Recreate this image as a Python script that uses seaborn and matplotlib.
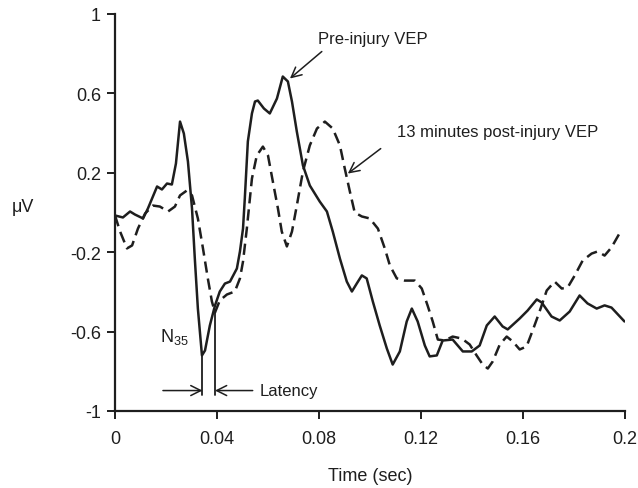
import matplotlib
matplotlib.use("Agg")
import matplotlib.pyplot as plt
import seaborn as sns
import pandas as pd

# ---- data (time in sec, amplitude in microvolts) ----
time_pre = [0.0, 0.0031, 0.0059, 0.0078, 0.011, 0.0129, 0.0165, 0.0184, 0.0204, 0.0223,
            0.0239, 0.0255, 0.027, 0.0286, 0.0302, 0.0313, 0.0325, 0.0341, 0.0353, 0.0372,
            0.0392, 0.0411, 0.0431, 0.0451, 0.0478, 0.049, 0.0502, 0.0509, 0.0521, 0.0537,
            0.0549, 0.056, 0.0584, 0.0607, 0.0635, 0.0658, 0.0678, 0.0694, 0.0713, 0.0737,
            0.0764, 0.0803, 0.0831, 0.0854, 0.0882, 0.0909, 0.0929, 0.0948, 0.0968, 0.0987,
            0.1011, 0.1038, 0.1066, 0.1089, 0.1117, 0.1144, 0.1164, 0.1187, 0.1215, 0.1234,
            0.1262, 0.1285, 0.1324, 0.1364, 0.1399, 0.143, 0.1458, 0.1489, 0.152, 0.154,
            0.1587, 0.1618, 0.1654, 0.1673, 0.1712, 0.1744, 0.1783, 0.1822, 0.1853, 0.1889,
            0.192, 0.1947, 0.1998]
uv_pre = [-0.015, -0.025, 0.005, -0.01, -0.03, 0.02, 0.131, 0.116, 0.146, 0.141,
          0.247, 0.458, 0.398, 0.257, 0.02, -0.232, -0.484, -0.72, -0.695, -0.569,
          -0.469, -0.398, -0.358, -0.348, -0.282, -0.196, -0.081, 0.07, 0.358, 0.499,
          0.559, 0.564, 0.524, 0.499, 0.574, 0.685, 0.66, 0.559, 0.408, 0.237,
          0.136, 0.055, 0.005, -0.096, -0.232, -0.348, -0.398, -0.358, -0.317, -0.332,
          -0.448, -0.569, -0.685, -0.766, -0.70, -0.549, -0.484, -0.549, -0.67, -0.725,
          -0.72, -0.645, -0.64, -0.70, -0.70, -0.67, -0.569, -0.524, -0.574, -0.589,
          -0.534, -0.494, -0.438, -0.453, -0.524, -0.544, -0.499, -0.418, -0.458, -0.484,
          -0.468, -0.479, -0.549]

time_post = [0.0, 0.002, 0.0047, 0.0067, 0.009, 0.0118, 0.0149, 0.0176, 0.0208, 0.0235,
             0.0255, 0.0282, 0.0302, 0.0325, 0.0345, 0.0364, 0.038, 0.0392, 0.0411, 0.0439,
             0.047, 0.049, 0.0502, 0.0517, 0.0537, 0.0556, 0.058, 0.06, 0.0619, 0.0639,
             0.0654, 0.0674, 0.0694, 0.0713, 0.0737, 0.0764, 0.0792, 0.0823, 0.0854, 0.0882,
             0.0901, 0.0921, 0.094, 0.0968, 0.0999, 0.1031, 0.1058, 0.1078, 0.1105, 0.1136,
             0.1176, 0.1203, 0.1226, 0.1246, 0.1266, 0.1293, 0.1324, 0.136, 0.1391, 0.1418,
             0.1442, 0.1462, 0.1481, 0.1509, 0.1536, 0.156, 0.1587, 0.1614, 0.1638, 0.1665,
             0.1693, 0.1724, 0.1752, 0.1775, 0.1803, 0.1834, 0.1869, 0.1893, 0.192, 0.1947,
             0.1967, 0.1987]
uv_post = [-0.015, -0.096, -0.181, -0.166, -0.081, -0.005, 0.035, 0.03, 0.005, 0.03,
           0.086, 0.111, 0.086, -0.03, -0.181, -0.332, -0.448, -0.504, -0.443, -0.413,
           -0.398, -0.332, -0.247, -0.081, 0.171, 0.287, 0.332, 0.287, 0.156, 0.02,
           -0.096, -0.171, -0.096, 0.035, 0.207, 0.338, 0.423, 0.458, 0.423, 0.338,
           0.222, 0.106, 0.0, -0.02, -0.03, -0.081, -0.181, -0.267, -0.332, -0.343,
           -0.343, -0.383, -0.469, -0.549, -0.64, -0.645, -0.625, -0.635, -0.665, -0.72,
           -0.766, -0.786, -0.751, -0.665, -0.625, -0.65, -0.69, -0.675, -0.594, -0.499,
           -0.393, -0.348, -0.383, -0.378, -0.317, -0.242, -0.207, -0.196, -0.217, -0.176,
           -0.131, -0.086]

xticks = [0, 0.04, 0.08, 0.12, 0.16, 0.2]
xtick_labels = ["0", "0.04", "0.08", "0.12", "0.16", "0.2"]
yticks = [1, 0.6, 0.2, -0.2, -0.6, -1]
ytick_labels = ["1", "0.6", "0.2", "-0.2", "-0.6", "-1"]

# latency markers
n35_time, n35_uv = 0.0343, -0.72
post_n35_time, post_n35_uv = 0.0392, -0.50
latency_level = -0.92
latency_arrow_uv = -0.897

df = pd.concat([
    pd.DataFrame({"t": time_pre, "uv": uv_pre, "cond": "pre"}),
    pd.DataFrame({"t": time_post, "uv": uv_post, "cond": "post"}),
])

sns.set_style("ticks")
plt.rcParams["font.family"] = ["Liberation Sans", "DejaVu Sans"]
plt.rcParams["mathtext.fontset"] = "custom"
plt.rcParams["mathtext.rm"] = "Liberation Sans"
plt.rcParams["mathtext.it"] = "Liberation Sans"

ink = "#1e1e1e"
fig = plt.figure(figsize=(6.38, 4.89), dpi=100)
ax = fig.add_axes([115 / 638, 1 - 412 / 489, 510 / 638, 397 / 489])

sns.lineplot(data=df[df.cond == "pre"], x="t", y="uv", ax=ax, color=ink,
             linewidth=1.8, estimator=None)
sns.lineplot(data=df[df.cond == "post"], x="t", y="uv", ax=ax, color=ink,
             linewidth=1.8, estimator=None)
ax.lines[-1].set_dashes((4.5, 2.4))

ax.set_xlim(0, 0.2)
ax.set_ylim(-1, 1)
ax.set_xticks(xticks)
ax.set_xticklabels(xtick_labels)
ax.set_yticks(yticks)
ax.set_yticklabels(ytick_labels)
ax.tick_params(axis="both", direction="out", length=6, width=1.4, colors=ink,
               labelsize=13, labelcolor=ink)
ax.tick_params(axis="x", pad=8)
ax.tick_params(axis="y", pad=4)
for side in ["top", "right"]:
    ax.spines[side].set_visible(False)
for side in ["left", "bottom"]:
    ax.spines[side].set_linewidth(1.6)
    ax.spines[side].set_color(ink)

ax.set_xlabel("Time (sec)", fontsize=13, color=ink, labelpad=14)
ax.set_ylabel("\u03bcV", fontsize=13, color=ink, rotation=0, va="center", ha="center")
ax.yaxis.set_label_coords(-0.18, 0.515)

# annotations
arrow_kw = dict(arrowstyle="->", color=ink, lw=1.1, mutation_scale=18,
                shrinkA=0, shrinkB=0)
ax.annotate("", xy=(0.0686, 0.675), xytext=(0.0811, 0.811), arrowprops=arrow_kw)
ax.text(0.0795, 0.877, "Pre-injury VEP", fontsize=12, color=ink, va="center", ha="left")
ax.annotate("", xy=(0.0913, 0.196), xytext=(0.1042, 0.322), arrowprops=arrow_kw)
ax.text(0.1105, 0.408, "13 minutes post-injury VEP", fontsize=12, color=ink,
        va="center", ha="left")

ax.plot([n35_time, n35_time], [n35_uv, latency_level], color=ink, lw=1.3)
ax.plot([post_n35_time, post_n35_time], [post_n35_uv, latency_level], color=ink, lw=1.3)
ax.annotate("", xy=(n35_time, latency_arrow_uv), xytext=(0.0188, latency_arrow_uv),
            arrowprops=arrow_kw)
ax.annotate("", xy=(post_n35_time, latency_arrow_uv), xytext=(0.054, latency_arrow_uv),
            arrowprops=arrow_kw)
ax.text(0.0568, latency_arrow_uv, "Latency", fontsize=12, color=ink, va="center", ha="left")
ax.text(0.0176, -0.62, "N$_{35}$", fontsize=13, color=ink, va="center", ha="left")

fig.savefig("out.png", dpi=100)
